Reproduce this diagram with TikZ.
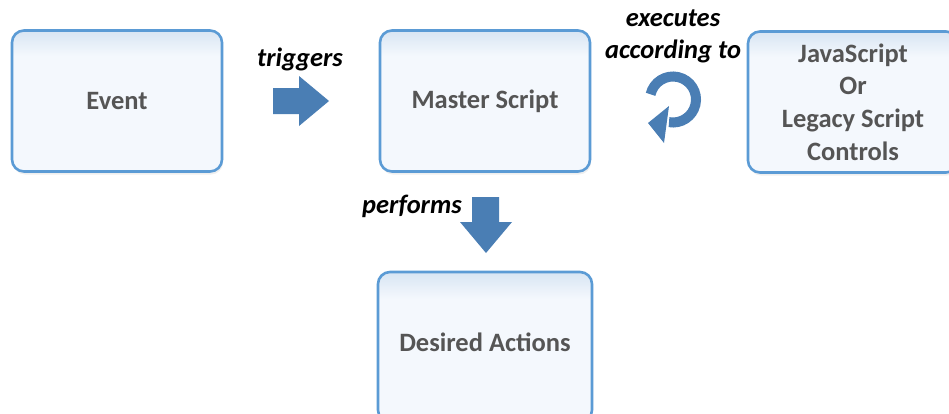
\documentclass[tikz,border=0pt]{standalone}
\usepackage{fontspec}
\setmainfont{Carlito}
\usetikzlibrary{shadows}

\definecolor{boxline}{RGB}{91,155,213}
\definecolor{boxtop}{RGB}{216,229,243}
\definecolor{boxlow}{RGB}{244,248,253}
\definecolor{boxtext}{RGB}{85,85,85}
\definecolor{arrowblue}{RGB}{74,126,180}

% light band at the top of each box, fading into the pale body
\pgfdeclareverticalshading{boxshade}{100bp}{%
  color(0bp)=(boxlow); color(25bp)=(boxlow); color(66bp)=(boxlow);
  color(75bp)=(boxtop); color(100bp)=(boxtop)}

\tikzset{
  stagebox/.style={draw=boxline, line width=2.6pt, rounded corners=12pt,
    shading=boxshade, minimum width=210pt, minimum height=141pt,
    inner sep=0pt, align=center, text=boxtext,
    font=\fontsize{26.5}{32.7}\selectfont\bfseries,
    drop shadow={shadow xshift=1pt, shadow yshift=-3pt,
      opacity=0.10, fill=black!60}},
  stagetext/.style={inner sep=0pt, text=boxtext,
    font=\fontsize{26.5}{32.7}\selectfont\bfseries},
  verblabel/.style={inner sep=0pt, text=black,
    font=\fontsize{26.5}{32}\selectfont\bfseries\itshape, align=center},
  blockarrow/.style={fill=arrowblue, draw=none}
}

\begin{document}
\begin{tikzpicture}[x=1pt, y=-1pt]
  \useasboundingbox (0,0) rectangle (949,413);

  % the four stages
  \node[stagebox] (event)  at (117,101) {Event};
  \node[stagebox] (master) at (485,101) {Master Script};
  \node[stagebox] (js)     at (853,102) {JavaScript\\Or\\Legacy Script\\Controls};
  \node[stagebox, minimum width=214pt, minimum height=150pt] (actions) at (485,347) {};
  \node[stagetext] (actionstext) at (485,342) {Desired Actions};

  % event triggers the master script
  \node[verblabel] (trig) at (300,59) {triggers};
  \fill[blockarrow] (273,88) -- (299,88) -- (299,76) -- (329,101)
    -- (299,126) -- (299,114) -- (273,114) -- cycle;

  % master script performs the actions
  \node[verblabel, anchor=east] (perf) at (462,206) {performs};
  \fill[blockarrow] (472,197) -- (499,197) -- (499,222) -- (512,222)
    -- (486,253) -- (460,222) -- (472,222) -- cycle;

  % master script executes according to the controls
  \node[verblabel] (exec) at (673,36) {executes\\according to};
  \coordinate (loop) at (673,99.5);
  \draw[arrowblue, line width=10pt]
    (loop) ++(193:23) arc[start angle=193, end angle=460, radius=23];
  \fill[blockarrow] (648,123) -- (669,106) -- (664,143) -- cycle;
\end{tikzpicture}
\end{document}
